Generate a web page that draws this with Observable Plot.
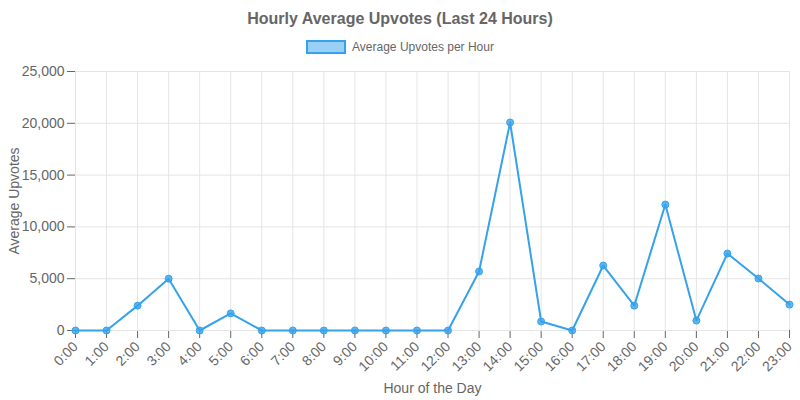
<!DOCTYPE html>
<html><head><meta charset="utf-8">
<script src="https://cdn.jsdelivr.net/npm/d3@7"></script>
<script src="https://cdn.jsdelivr.net/npm/@observablehq/plot@0.6"></script>
<style>
body{margin:0;font-family:"Liberation Sans",Arial,sans-serif;background:#fff;width:800px;height:400px;overflow:hidden}
#title{height:38px;line-height:38px;text-align:center;font-weight:bold;font-size:16px;color:#666}
#legend{height:17px;display:flex;justify-content:center;align-items:flex-start;font-size:12px;color:#666}
#legend span.box{display:inline-block;width:36px;height:10px;background:rgba(54,162,235,0.5);border:2px solid #36A2EB;margin-right:6px;margin-top:2px}
#chart svg g[aria-label$="axis"] path{stroke:#ddd}
</style></head>
<body>
<div id="title">Hourly Average Upvotes (Last 24 Hours)</div>
<div id="legend"><span class="box"></span><span style="margin-top:2px">Average Upvotes per Hour</span></div>
<div id="chart"></div>
<script>
const hours = d3.range(24);
const hourLabels = hours.map(h => h + ":00");
const upvotes = [0, 0, 2400, 5000, 0, 1650, 0, 0, 0, 0, 0, 0, 0, 5700, 20080, 870, 0, 6270, 2400, 12160, 960, 7430, 5020, 2500];
const data = hours.map((h, i) => ({hour: h, value: upvotes[i]}));
const color = "#36A2EB";

document.getElementById("chart").append(Plot.plot({
  width: 800, height: 345,
  marginTop: 16, marginBottom: 70, marginLeft: 75, marginRight: 11,
  style: {fontFamily: "Liberation Sans, Arial, sans-serif", fontSize: "11.5px", color: "#666"},
  x: {domain: [0, 23], ticks: hours, tickFormat: d => hourLabels[d], tickRotate: -45,
      label: "Hour of the Day", labelArrow: "none", labelAnchor: "center", labelOffset: 62, tickSize: 8},
  y: {domain: [0, 25000], ticks: d3.range(0, 25001, 5000), tickFormat: d3.format(","),
      label: "Average Upvotes", labelArrow: "none", labelAnchor: "center", labelOffset: 66, tickSize: 8},
  marks: [
    Plot.gridX(hours, {stroke: "#e5e5e5", strokeOpacity: 1}),
    Plot.gridY(d3.range(0, 25001, 5000), {stroke: "#e5e5e5", strokeOpacity: 1}),
    Plot.line(data, {x: "hour", y: "value", stroke: color, strokeWidth: 2}),
    Plot.dot(data, {x: "hour", y: "value", r: 3.5, fill: color, fillOpacity: 0.8, stroke: color, strokeWidth: 1})
  ]
}));
document.querySelectorAll("#chart svg [aria-label$='label'] text").forEach(t => t.style.fontSize = "14px");
</script>
</body></html>
